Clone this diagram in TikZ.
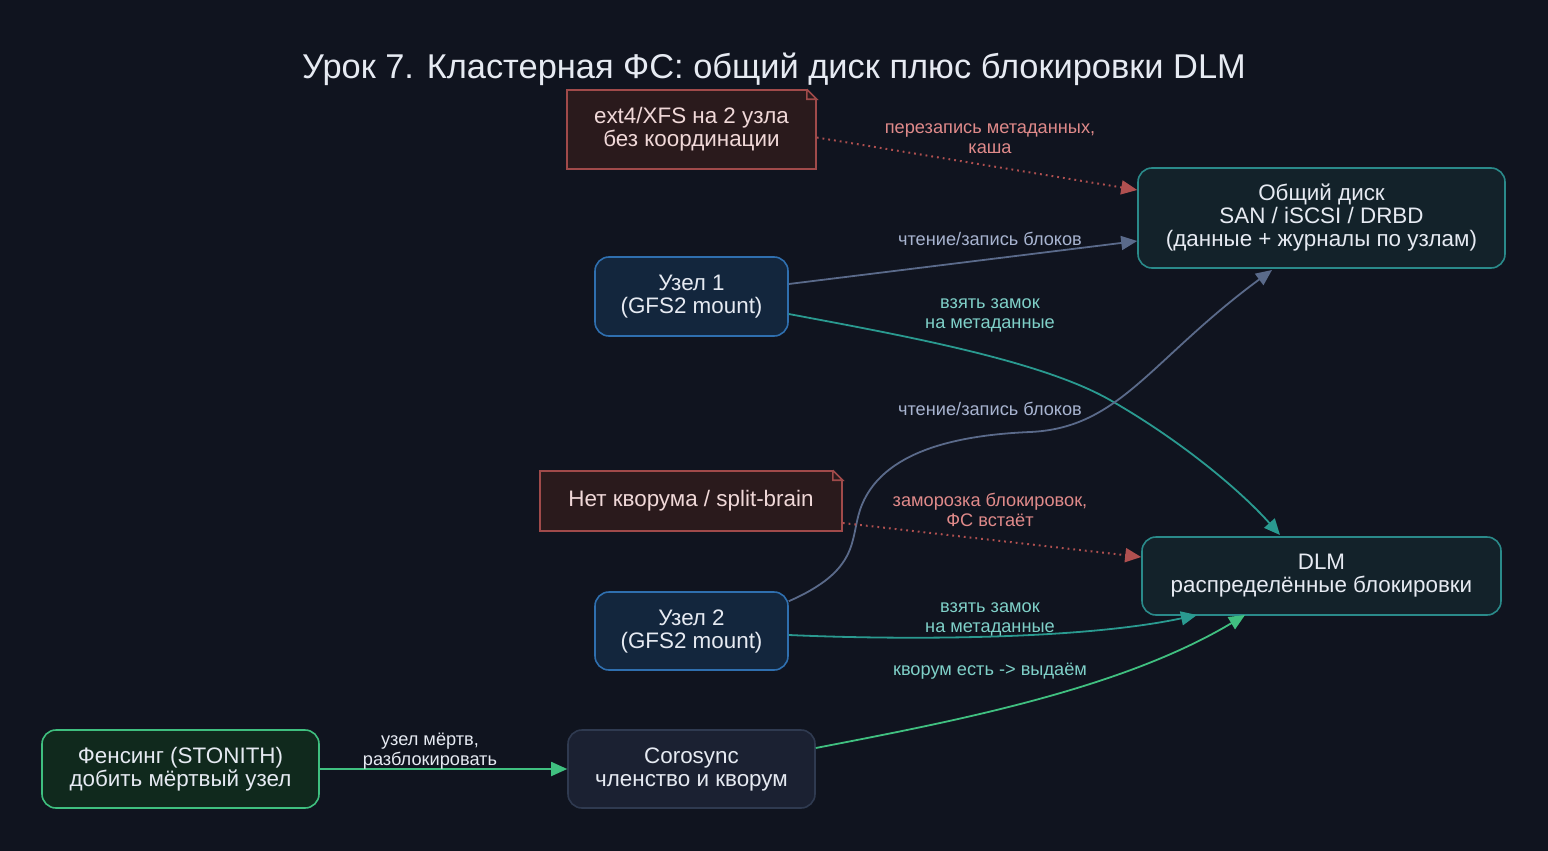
\documentclass[tikz,border=0pt]{standalone}
\usepackage{fontspec}
\setmainfont{Liberation Sans}
\usetikzlibrary{arrows.meta,shapes.misc}
\definecolor{bg}{HTML}{10141F}
\definecolor{txt}{HTML}{E6EAF2}
\definecolor{nfill}{HTML}{2A1A1C}\definecolor{ndraw}{HTML}{A04A4A}\definecolor{ntxt}{HTML}{F0D8D8}
\definecolor{dfill}{HTML}{13222A}\definecolor{ddraw}{HTML}{2A8A8A}
\definecolor{ufill}{HTML}{13263D}\definecolor{udraw}{HTML}{2F6FAF}
\definecolor{ffill}{HTML}{10291D}\definecolor{fdraw}{HTML}{3FBF7F}
\definecolor{cfill}{HTML}{1B2132}\definecolor{cdraw}{HTML}{2F3A50}
\definecolor{egray}{HTML}{5A6A8A}\definecolor{lgray}{HTML}{A8B4D0}
\definecolor{eteal}{HTML}{2A9A90}\definecolor{lteal}{HTML}{7FD0C8}
\definecolor{egreen}{HTML}{40C080}\definecolor{ered}{HTML}{B05050}\definecolor{lred}{HTML}{E08A8A}
\tikzset{
 box/.style={draw, line width=0.8pt, rounded corners=7pt, align=center, text=txt, font=\fontsize{11.2}{11.5}\selectfont, inner sep=0pt},
 notebox/.style={draw=ndraw, fill=nfill, line width=0.8pt, align=center, text=ntxt, font=\fontsize{11.2}{11.5}\selectfont, inner sep=0pt},
 elab/.style={font=\fontsize{9.1}{10}\selectfont, align=center},
 arr/.style={line width=0.9pt, -{Triangle[length=8pt,width=7pt]}},
}
\begin{document}
\begin{tikzpicture}[x=0.5pt,y=-0.5pt]
\fill[bg] (0,0) rectangle (1548,851);
\useasboundingbox (0,0) rectangle (1548,851);
\node[text=txt,font=\fontsize{17.2}{19}\selectfont] (title) at (774,69) {Урок 7. Кластерная ФС: общий диск плюс блокировки DLM};
% notes
\node[notebox, minimum width=124.5pt, minimum height=39.5pt] (n1) at (691.5,129.5) {ext4/XFS на 2 узла\\без координации};
\node[notebox, minimum width=151pt, minimum height=30pt] (n2) at (691,501) {Нет кворума / split-brain};
\foreach \n in {n1,n2}{
 \fill[bg] ([xshift=-5pt]\n.north east) -- (\n.north east) -- ([yshift=-5pt]\n.north east) -- cycle;
 \draw[ndraw,line width=0.8pt] ([xshift=-5pt]\n.north east) -- ([xshift=-5pt,yshift=-5pt]\n.north east) -- ([yshift=-5pt]\n.north east) -- ([xshift=-5pt]\n.north east);
}
\node[box, draw=ddraw, fill=dfill, minimum width=183.5pt, minimum height=50pt] (disk) at (1321.5,218) {Общий диск\\SAN / iSCSI / DRBD\\(данные + журналы по узлам)};
\node[box, draw=udraw, fill=ufill, minimum width=96.5pt, minimum height=39.5pt] (u1) at (691.5,296.5) {Узел 1\\(GFS2 mount)};
\node[box, draw=udraw, fill=ufill, minimum width=96.5pt, minimum height=39pt] (u2) at (691.5,631) {Узел 2\\(GFS2 mount)};
\node[box, draw=ddraw, fill=dfill, minimum width=179.5pt, minimum height=39pt] (dlm) at (1321.5,576) {DLM\\распределённые блокировки};
\node[box, draw=fdraw, fill=ffill, minimum width=138.5pt, minimum height=39pt] (fen) at (180.5,769) {Фенсинг (STONITH)\\добить мёртвый узел};
\node[box, draw=cdraw, fill=cfill, minimum width=123.5pt, minimum height=39pt] (cor) at (691.5,769) {Corosync\\членство и кворум};
% edges
\draw[arr, ered, dotted, line width=1pt] (n1.east) ++(0,8) coordinate (n1s) -- (disk.west |- 0,190) coordinate (de1);
\node[elab,text=lred] (l1) at (990,139) {перезапись метаданных,\\каша};
\draw[arr, egray] (u1.east |- 0,284) -- ([yshift=-11.5pt]disk.west);
\node[elab,text=lgray] (l2) at (990,239) {чтение/запись блоков};
\draw[arr, eteal] (u1.east |- 0,314) .. controls (900,335) and (1040,360) .. (1110,400) .. controls (1180,440) and (1240,490) .. (1280,535);
\node[elab,text=lteal] (l3) at (990,315) {взять замок\\на метаданные};
\draw[arr, egray] (u2.north east) ++(0,10) .. controls (860,570) and (850,540) .. (860,510) .. controls (880,450) and (960,435) .. (1030,432) .. controls (1120,428) and (1150,360) .. (1272,270);
\node[elab,text=lgray] (l4) at (990,409) {чтение/запись блоков};
\draw[arr, ered, dotted, line width=1pt] (n2.east) ++(0,22) -- (dlm.west |- 0,557);
\node[elab,text=lred] (l5) at (990,510) {заморозка блокировок,\\ФС встаёт};
\draw[arr, eteal] (u2.east |- 0,635) .. controls (900,640) and (1080,640) .. (1197,615);
\node[elab,text=lteal] (l6) at (990,619) {взять замок\\на метаданные};
\draw[arr, egreen] (cor.east |- 0,748) .. controls (950,722) and (1120,690) .. (1245,615);
\node[elab,text=lteal] (l7) at (990,671) {кворум есть -> выдаём};
\draw[arr, egreen] (fen.east) -- (cor.west);
\node[elab,text=txt] (l8) at (430,751) {узел мёртв,\\разблокировать};
\end{tikzpicture}
\end{document}
